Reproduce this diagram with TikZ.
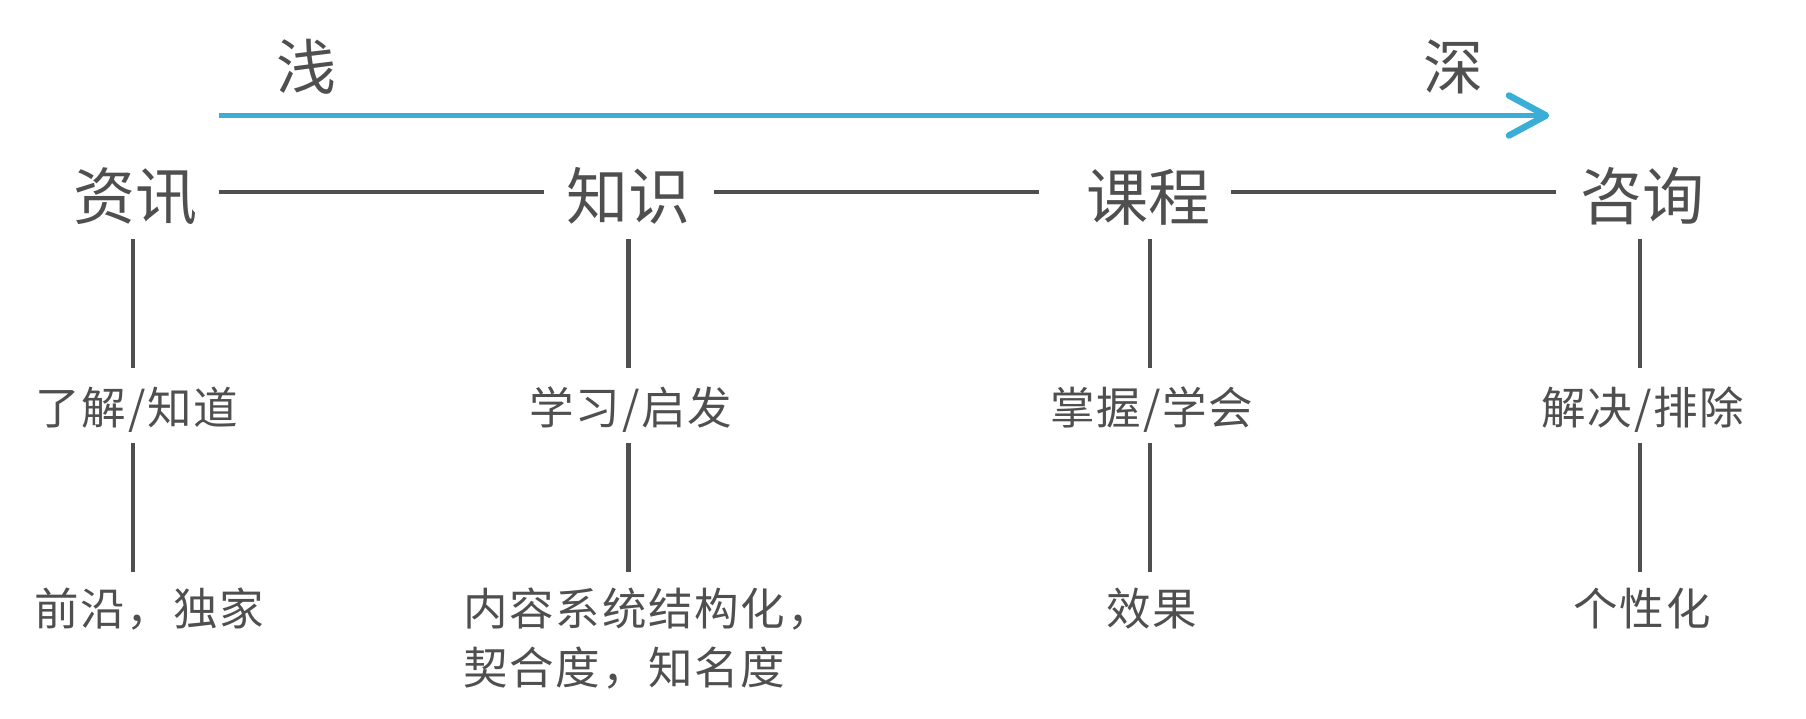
\documentclass[tikz,border=0pt]{standalone}
\usepackage{fontspec}
\setmainfont{Noto Sans CJK SC}
\definecolor{txtgray}{HTML}{4F4F4F}
\definecolor{arrblue}{HTML}{3AAED6}
\begin{document}
\begin{tikzpicture}[x=1pt,y=-1pt,
  big/.style={inner sep=0pt,anchor=base,text=txtgray,font=\fontsize{62}{70}\selectfont},
  mid/.style={inner sep=0pt,anchor=base,text=txtgray,font=\fontsize{44.5}{59}\selectfont\addfontfeature{LetterSpace=4}},
  conn/.style={draw=txtgray,line width=4.5pt},
  flow/.style={draw=arrblue,line width=5pt},
  tipline/.style={draw=arrblue,line width=6.5pt,line cap=round,line join=round}]
\useasboundingbox (0,0) rectangle (1806,718);
% depth arrow
\node[big,font=\fontsize{60}{70}\selectfont] (shallow) at (306,89) {浅};
\node[big,font=\fontsize{60}{70}\selectfont] (deep) at (1453,89) {深};
\coordinate (arrS) at (219,115.5);
\coordinate (arrE) at (1546,115.5);
\draw[flow] (arrS) -- (arrE);
\draw[tipline] ([shift={(-37,-20)}]arrE) -- (arrE) -- ([shift={(-37,20)}]arrE);
% top row
\node[big] (zx) at (135,219) {资讯};
\node[big] (zs) at (628,219) {知识};
\node[big] (kc) at (1148,220) {课程};
\node[big] (zq) at (1642,219) {咨询};
% horizontal connectors
\coordinate (h1a) at (219,192); \coordinate (h1b) at (544,192);
\coordinate (h2a) at (714,192); \coordinate (h2b) at (1039,192);
\coordinate (h3a) at (1231,192); \coordinate (h3b) at (1556,192);
\draw[conn] (h1a) -- (h1b);
\draw[conn] (h2a) -- (h2b);
\draw[conn] (h3a) -- (h3b);
% second row
\node[mid] (r1) at (137,424) {了解/知道};
\node[mid] (r2) at (631,424) {学习/启发};
\node[mid] (r3) at (1152,424) {掌握/学会};
\node[mid] (r4) at (1643,424) {解决/排除};
% third row
\node[mid,anchor=base west] (s1) at (34,625) {前沿，独家};
\node[mid,anchor=base west,align=left] (s2) at (463,684) {内容系统结构化，\\契合度，知名度};
\node[mid] (s3) at (1152,625) {效果};
\node[mid] (s4) at (1642,625) {个性化};
% vertical connectors
\foreach \n/\x in {1/133,2/628.5,3/1150,4/1640}{
  \coordinate (va\n) at (\x,239); \coordinate (vb\n) at (\x,368);
  \coordinate (vc\n) at (\x,443); \coordinate (vd\n) at (\x,572);
  \draw[conn] (va\n) -- (vb\n);
  \draw[conn] (vc\n) -- (vd\n);
}
\end{tikzpicture}
\end{document}
